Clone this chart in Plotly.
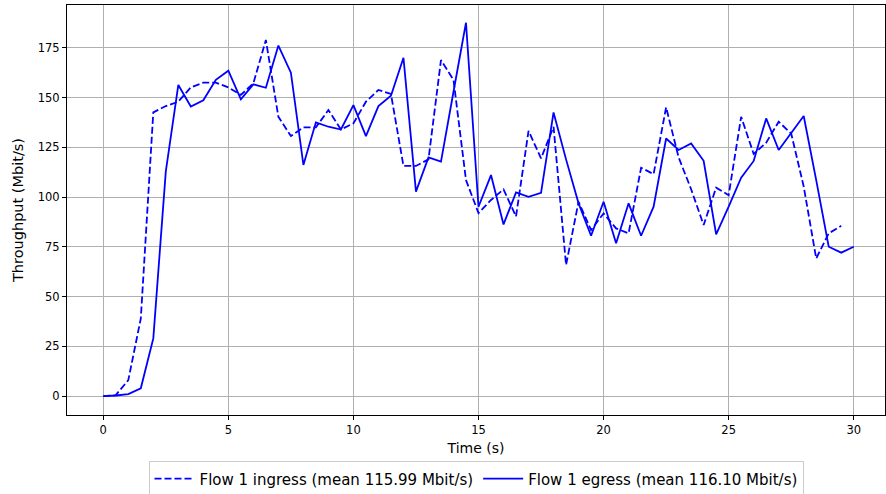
import plotly.graph_objects as go

t_ingress = [i * 0.5 for i in range(60)]
ingress = [0, 0.5, 8, 39, 142.6, 145.8, 148, 155.2, 157.6, 157.6,
           155.2, 151.4, 157.2, 179, 140.4, 130.7, 135.1, 135.1, 143.8, 134,
           137.1, 148, 153.9, 151.9, 115.7, 115.7, 119, 168.9, 159, 108.6,
           92, 98.6, 103.9, 90.3, 133.3, 119.5, 135.4, 65.9, 97.7, 83.5,
           91.8, 84.3, 81.8, 114.8, 111.6, 145.2, 120, 104, 86, 104.8,
           101, 140.4, 121.7, 127.4, 137.9, 132, 105.4, 69.2, 81.8, 85.6]

t_egress = [i * 0.5 for i in range(61)]
egress = [0, 0.3, 1, 3.9, 29, 113, 156.4, 145.6, 148.7, 159,
          163.6, 149.2, 156.7, 155, 176.2, 162.6, 116.2, 137.6, 135.4, 134,
          146.3, 130.7, 145.8, 151, 170.1, 102.8, 120, 117.9, 153, 187.7,
          95.2, 111.1, 86.3, 102.4, 100.2, 102.2, 142.6, 119, 96.9, 80.6,
          97.7, 76.8, 96.9, 80.6, 95.2, 129.5, 123.7, 127, 118.3, 81.3,
          95.2, 109.8, 118.2, 139.6, 123.7, 132.4, 140.8, 108.6, 75.1, 72.1,
          75.1]

x_ticks = [0, 5, 10, 15, 20, 25, 30]
y_ticks = [0, 25, 50, 75, 100, 125, 150, 175]

font_family = "DejaVu Sans"

fig = go.Figure()
fig.add_trace(go.Scatter(
    x=t_ingress, y=ingress, mode="lines",
    name="Flow 1 ingress (mean 115.99 Mbit/s)",
    line=dict(color="#0000ff", width=1.8, dash="7px,3px"),
))
fig.add_trace(go.Scatter(
    x=t_egress, y=egress, mode="lines",
    name="Flow 1 egress (mean 116.10 Mbit/s)",
    line=dict(color="#0000ff", width=1.8),
))

axis_common = dict(
    showgrid=True, gridcolor="#b0b0b0", gridwidth=1,
    showline=True, linecolor="black", linewidth=1, mirror=True,
    ticks="outside", ticklen=4, tickcolor="black",
    zeroline=False, automargin=False,
    tickfont=dict(family=font_family, size=11.5, color="black"),
)

fig.update_layout(
    width=886, height=494,
    paper_bgcolor="white", plot_bgcolor="white",
    margin=dict(l=67, r=1, t=5, b=79),
    font=dict(family=font_family, color="black"),
    xaxis=dict(
        range=[-1.45, 31.25], tickvals=x_ticks,
        title=dict(text="Time (s)", font=dict(size=14), standoff=7),
        **axis_common,
    ),
    yaxis=dict(
        range=[-9.5, 196.6], tickvals=y_ticks,
        title=dict(text="Throughput (Mbit/s)", font=dict(size=14.5), standoff=10),
        **axis_common,
    ),
    legend=dict(
        orientation="h", x=0.5, xanchor="center",
        yref="container", y=0.066, yanchor="top",
        bordercolor="#cccccc", borderwidth=1,
        font=dict(size=15),
        itemwidth=40,
    ),
    showlegend=True,
)

fig.write_html(
    "out.html",
    config={"displayModeBar": False},
    post_script="document.body.style.margin='0';document.body.style.padding='0';",
)
